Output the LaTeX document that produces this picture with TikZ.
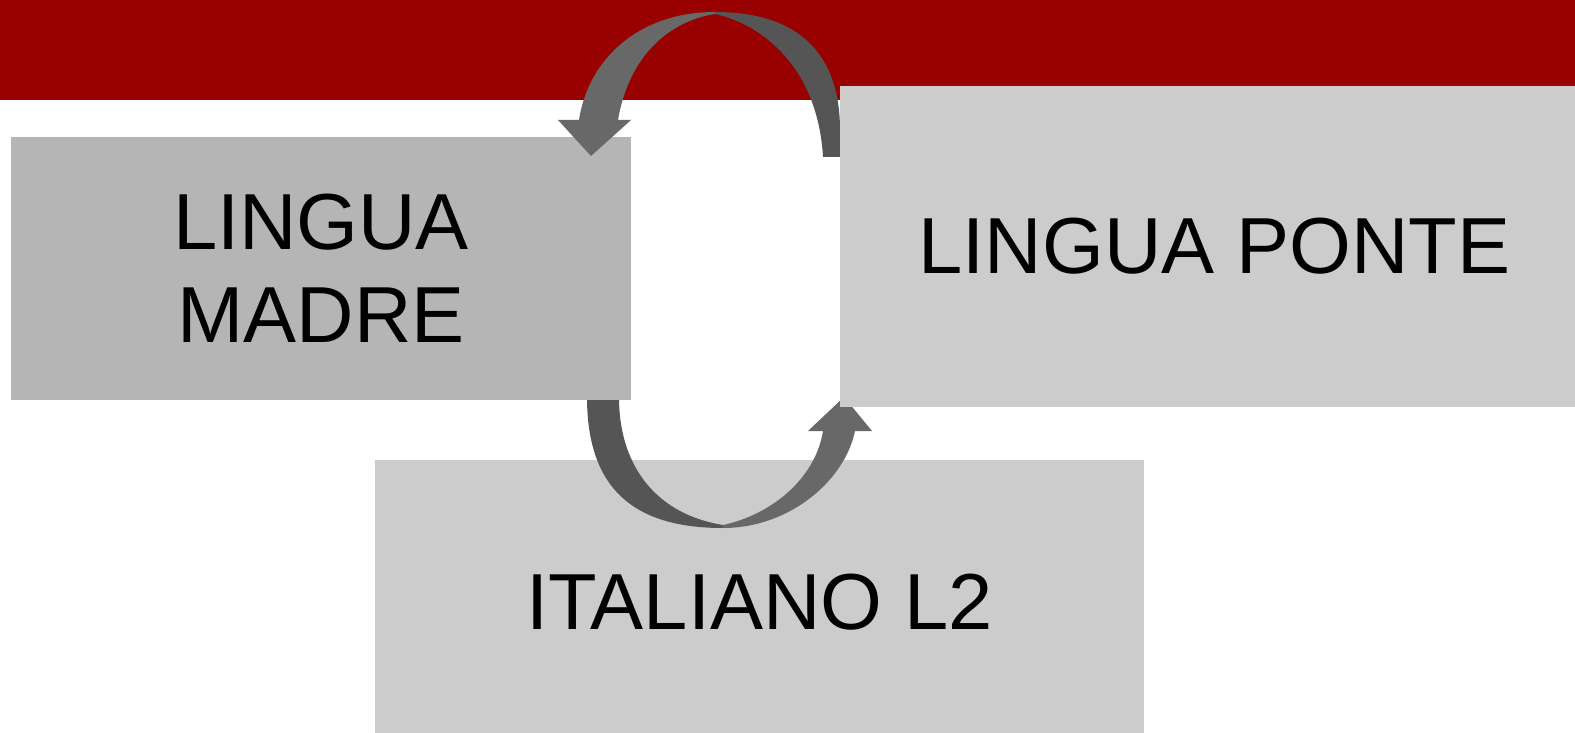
\documentclass[tikz,border=0pt]{standalone}
\usepackage{fontspec}
\setmainfont{Liberation Sans}
\definecolor{band}{HTML}{990000}
\definecolor{boxdark}{HTML}{B5B5B5}
\definecolor{boxlight}{HTML}{CCCCCC}
\definecolor{headgray}{HTML}{686868}
\definecolor{tailgray}{HTML}{555555}
\tikzset{
  panel/.style={anchor=north west, inner sep=0pt, outer sep=0pt, align=center,
    font=\fontsize{79.5}{93}\selectfont, text=black},
  headpart/.style={fill=headgray, draw=none},
  tailpart/.style={fill=tailgray, draw=none},
}
\begin{document}
\begin{tikzpicture}[x=1pt,y=-1pt]
\useasboundingbox (0,0) rectangle (1575,733);
% title band
\fill[band] (0,0) rectangle (1575,100);

% lower panel
\node[panel, fill=boxlight, minimum width=769pt, minimum height=284pt] (l2) at (375,460) {ITALIANO L2};

% curved arrow: from the mother tongue down and up into the bridge language
\coordinate (bs) at (603,397);   % tail
\coordinate (bc) at (723,527);   % bottom cusp
\coordinate (bt) at (844,397);   % tip
\fill[tailpart] (587,397) .. controls (587,490) and (635,528) .. (723,528)
  -- (723,525) .. controls (660,515) and (619,470) .. (619,397) -- cycle;
\fill[headpart] (723,528) .. controls (790,528) and (845,480) .. (855,431)
  -- (872,431) -- (bt) -- (808,431) -- (823,431)
  .. controls (815,480) and (770,515) .. (723,525) -- cycle;

% left panel
\node[panel, fill=boxdark, minimum width=620pt, minimum height=262pt] (madre) at (11,137.5) {LINGUA\\MADRE};

% curved arrow: from the bridge language over the top into the mother tongue
\coordinate (ts) at (831,157);   % tail
\coordinate (tc) at (715,12);    % top cusp
\coordinate (tt) at (591,156);   % tip
\fill[headpart] (tc) .. controls (638,12) and (588,60) .. (579,120)
  -- (558,120) -- (tt) -- (631,120) -- (618,120)
  .. controls (630,50) and (675,20) .. (715,14) -- cycle;
\fill[tailpart] (tc) .. controls (800,12) and (840,55) .. (840,130)
  -- (840,157) -- (823,157)
  .. controls (818,70) and (765,25) .. (715,14) -- cycle;

% right panel
\node[panel, fill=boxlight, minimum width=749pt, minimum height=321pt] (ponte) at (840,86) {LINGUA PONTE};
\end{tikzpicture}
\end{document}
